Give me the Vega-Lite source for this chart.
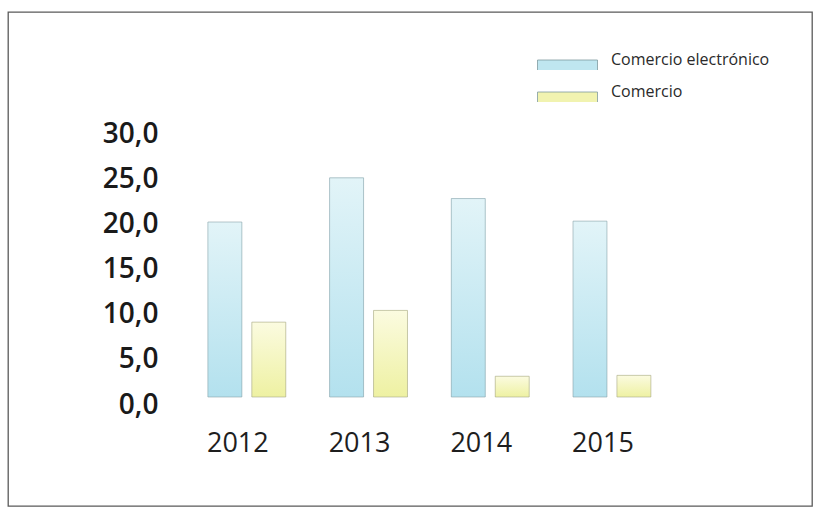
{
  "$schema": "https://vega.github.io/schema/vega-lite/v6.json",
  "width": 804,
  "height": 494,
  "autosize": {"type": "none"},
  "padding": {"left": 8, "top": 12, "right": 5, "bottom": 5},
  "background": "white",
  "config": {
    "view": {"stroke": "#5a5a5a", "strokeWidth": 1.3},
    "font": "Open Sans"
  },
  "data": {
    "values": [
      {"year": "2012", "series": "Comercio electrónico", "value": 19.4},
      {"year": "2012", "series": "Comercio", "value": 8.3},
      {"year": "2013", "series": "Comercio electrónico", "value": 24.3},
      {"year": "2013", "series": "Comercio", "value": 9.6},
      {"year": "2014", "series": "Comercio electrónico", "value": 22.0},
      {"year": "2014", "series": "Comercio", "value": 2.3},
      {"year": "2015", "series": "Comercio electrónico", "value": 19.5},
      {"year": "2015", "series": "Comercio", "value": 2.4}
    ]
  },
  "encoding": {
    "x": {
      "field": "year",
      "type": "nominal",
      "scale": {"range": [178, 664.8], "paddingInner": 0.36, "paddingOuter": 0.18},
      "axis": {
        "orient": "bottom",
        "offset": -55,
        "title": null,
        "domain": false,
        "ticks": false,
        "tickSize": 0,
        "grid": false,
        "labelPadding": 0,
        "labelAngle": 0,
        "labelBaseline": "alphabetic",
        "labelOffset": -9,
        "labelFont": "Open Sans",
        "labelFontSize": 27,
        "labelFontWeight": 500,
        "labelColor": "#1e1e1e"
      }
    },
    "xOffset": {
      "field": "series",
      "type": "nominal",
      "scale": {"domain": ["Comercio electrónico", "Comercio"], "paddingInner": 0.227, "paddingOuter": 0}
    },
    "y": {
      "field": "value",
      "type": "quantitative",
      "scale": {"domain": [0, 30], "range": [385, 114.4], "nice": false, "zero": true},
      "axis": {
        "orient": "left",
        "offset": -150,
        "title": null,
        "domain": false,
        "ticks": false,
        "tickSize": 0,
        "grid": false,
        "values": [0, 5, 10, 15, 20, 25, 30],
        "labelExpr": "replace(format(datum.value, '.1f'), '.', ',')",
        "labelPadding": 0,
        "labelBaseline": "alphabetic",
        "labelOffset": 16,
        "labelFont": "Open Sans",
        "labelFontSize": 28,
        "labelFontWeight": 600,
        "labelColor": "#1a1a1a"
      }
    }
  },
  "layer": [
    {
      "mark": {"type": "bar"},
      "encoding": {
        "color": {
          "field": "series",
          "type": "nominal",
          "scale": {"domain": ["Comercio electrónico", "Comercio"], "range": ["#bfe6f0", "#f1f3b0"]},
          "legend": {
            "title": null,
            "orient": "none",
            "legendX": 529,
            "legendY": 38,
            "padding": 0,
            "symbolType": "M-1,0 H1 V0.4 H-1 Z",
            "symbolSize": 3600,
            "symbolStrokeColor": "#7f9aa0",
            "symbolStrokeWidth": 0.8,
            "symbolOpacity": 1,
            "clipHeight": 20,
            "rowPadding": 12,
            "labelOffset": 13,
            "labelFont": "Open Sans",
            "labelFontSize": 16,
            "labelColor": "#2a2a2a",
            "labelLimit": 300
          }
        }
      }
    },
    {
      "transform": [{"filter": "datum.series === 'Comercio electrónico'"}],
      "mark": {
        "type": "bar",
        "fill": {
          "gradient": "linear",
          "x1": 0, "y1": 0, "x2": 0, "y2": 1,
          "stops": [
            {"offset": 0, "color": "#e2f4f8"},
            {"offset": 1, "color": "#b3e1ee"}
          ]
        },
        "stroke": "#8aa3aa",
        "strokeWidth": 0.6
      }
    },
    {
      "transform": [{"filter": "datum.series === 'Comercio'"}],
      "mark": {
        "type": "bar",
        "fill": {
          "gradient": "linear",
          "x1": 0, "y1": 0, "x2": 0, "y2": 1,
          "stops": [
            {"offset": 0, "color": "#fbfbe0"},
            {"offset": 1, "color": "#eef1a2"}
          ]
        },
        "stroke": "#a6a78a",
        "strokeWidth": 0.6
      }
    }
  ]
}
